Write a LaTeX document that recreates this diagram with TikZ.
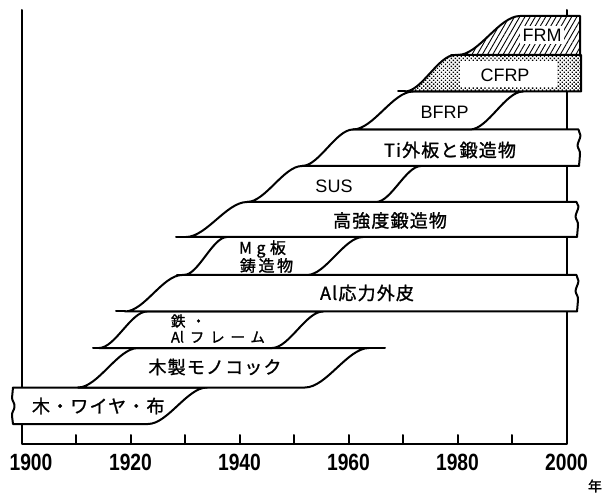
\documentclass[tikz,border=0pt]{standalone}
\usepackage{fontspec}
\setmainfont{Liberation Sans}
\newfontfamily\jpf[LetterSpace=6.5,FakeBold=1.2]{Noto Sans CJK JP}
\newfontfamily\jpw[LetterSpace=28,FakeBold=1.2]{Noto Sans CJK JP}
\newfontfamily\jpx[LetterSpace=40,FakeBold=1.2]{Noto Sans CJK JP}
\newfontfamily\jpn[LetterSpace=16,FakeBold=1.2]{Noto Sans CJK JP}
\newfontfamily\jpplain[FakeBold=1.2]{Noto Sans CJK JP}
\newfontfamily\yrf[FakeStretch=0.82]{Liberation Sans}
\usetikzlibrary{patterns.meta}
\begin{document}
\begin{tikzpicture}[x=1pt,y=-1pt,line width=2pt,line join=round,line cap=round,
  band/.style={fill=white,draw=black},
  axisline/.style={line width=2pt},
  jp/.style={font=\jpf\fontsize{18pt}{21pt}\selectfont,inner sep=0pt},
  jpwide/.style={font=\jpw\fontsize{16pt}{19pt}\selectfont,inner sep=0pt},
  jpxwide/.style={font=\jpx\fontsize{14.5pt}{17pt}\selectfont,inner sep=0pt},
  jpnarrow/.style={font=\jpn\fontsize{16pt}{19pt}\selectfont,inner sep=0pt},
  lat/.style={font=\fontsize{18pt}{21pt}\selectfont,inner sep=0pt},
  yr/.style={font=\yrf\bfseries\fontsize{23.5pt}{26pt}\selectfont,inner sep=0pt}]
\useasboundingbox (0,0) rectangle (605,494);
% axes
\draw[axisline] (21.5,10) -- (21.5,444) -- (566.5,444) -- (566.5,10);
\foreach \i in {1,...,9} \draw[axisline] (21.5+54.5*\i,444) -- ++(0,-9);
\node[yr] (y1900) at (31,462) {1900};
\foreach \yr/\i in {1920/2,1940/4,1960/6,1980/8,2000/10}
  \node[yr] (y\yr) at (21.5+54.5*\i,462) {\yr};
\node[font=\jpplain\fontsize{14pt}{16pt}\selectfont,inner sep=0pt] (nen) at (595,486) {年};
% A: wood, wire, cloth
\draw[band] (13,424) -- ++(-1,-8) .. controls +(-0.5,-4) and +(-0.5,4) .. ++(2.5,-9)
  .. controls +(0.5,-4) and +(0.5,4) .. ++(-2.5,-9) -- ++(1,-10.5)
  -- (207,387.5) .. controls (187.3,387.5) and (167.7,424) .. (148,424) -- cycle;
% B: wooden monocoque
\draw[band] (78,387.5) -- (305,387.5) .. controls (326.3,387.5) and (347.7,348) .. (369,348)
  -- (138,348) .. controls (118,348) and (98,387.5) .. (78,387.5) -- cycle;
\draw (369,348) -- (385,348);
% C: steel / Al frame
\draw[band] (99,348) -- (272,348) .. controls (289,348) and (306,311.5) .. (323,311.5)
  -- (147,311.5) .. controls (131,311.5) and (115,348) .. (99,348) -- cycle;
\draw (93,348) -- (99,348);
% D: Al stressed skin
\draw[band] (125,311.5) -- (577,311.5) -- ++(1,-11.5) .. controls +(0.5,-4) and +(0.5,4) .. ++(-2.5,-9)
  .. controls +(0.5,-4) and +(-0.5,4) .. ++(3,-10) .. controls +(-0.5,-3) and +(0,2) .. ++(-2,-6)
  -- (182,275) .. controls (163,275) and (144,311.5) .. (125,311.5) -- cycle;
\draw (116,311.5) -- (125,311.5);
% E: Mg
\draw[band] (184,275) -- (307,275) .. controls (325.7,275) and (344.3,237) .. (363,237)
  -- (227,237) .. controls (212.7,237) and (198.3,275) .. (184,275) -- cycle;
\draw (177,275) -- (184,275);
% F: high strength forgings
\draw[band] (186,237) -- (577,237) -- ++(1,-11.5) .. controls +(0.5,-4) and +(0.5,4) .. ++(-2.5,-9)
  .. controls +(0.5,-4) and +(-0.5,4) .. ++(3,-10) .. controls +(-0.5,-3) and +(0,2) .. ++(-2,-4.5)
  -- (247,202) .. controls (226.7,202) and (206.3,237) .. (186,237) -- cycle;
\draw (176,237) -- (186,237);
% G: SUS
\draw[band] (247,202) -- (376,202) .. controls (391,202) and (406,166) .. (421,166)
  -- (302,166) .. controls (283.7,166) and (265.3,202) .. (247,202) -- cycle;
% H: Ti
\draw[band] (302,166) -- (579,166) -- ++(1,-11.5) .. controls +(0.5,-4) and +(0.5,4) .. ++(-2.5,-9)
  .. controls +(0.5,-4) and +(-0.5,4) .. ++(3,-10) .. controls +(-0.5,-3) and +(0,2) .. ++(-2,-6)
  -- (353,129.5) .. controls (336,129.5) and (319,166) .. (302,166) -- cycle;
% I: BFRP
\draw[band] (353,129.5) -- (470,129.5) .. controls (487.7,129.5) and (505.3,91.5) .. (523,91.5)
  -- (413,91.5) .. controls (393,91.5) and (373,129.5) .. (353,129.5) -- cycle;
% J: CFRP
\draw[preaction={fill=white},pattern={Dots[distance=2.8pt,angle=45,radius=0.95pt]}]
  (405,91.5) -- (581,91.5) -- (581,55) -- (455,55) .. controls (438.3,55) and (421.7,91.5) .. (405,91.5) -- cycle;
\fill[white] (460,61) rectangle (557,87);
\draw (398,91.5) -- (405,91.5);
% K: FRM
\draw[preaction={fill=white},pattern={Lines[angle=60,distance=4.5pt,line width=0.9pt]}]
  (458,55) -- (580,55) -- (580,16) -- (520,16) .. controls (499.3,16) and (478.7,55) .. (458,55) -- cycle;
\draw (451,55) -- (458,55);
% labels
\node[jp,anchor=west] (tA) at (31,406) {木・ワイヤ・布};
\node[jp] (tB) at (215,367) {木製モノコック};
\node[jpxwide,anchor=west] (tC1) at (170,321) {鉄・};
\node[jpxwide,anchor=west] (tC2) at (170,337) {{\jpplain Al}\hspace{6pt}フレーム};
\node[jp] (tD) at (367,293) {Al応力外皮};
\node[jpwide,anchor=west] (tE1) at (238,249) {Mg板};
\node[jpnarrow,anchor=west] (tE2) at (239,265.5) {鋳造物};
\node[jp] (tF) at (390,220.5) {高強度鍛造物};
\node[lat] (tG) at (334,186) {SUS};
\node[jp] (tH) at (450,150) {Ti外板と鍛造物};
\node[lat] (tI) at (444.5,112.5) {BFRP};
\node[lat] (tJ) at (505,75) {CFRP};
\node[lat,fill=white,inner sep=2.5pt] (tK) at (542,35) {FRM};
\end{tikzpicture}
\end{document}
